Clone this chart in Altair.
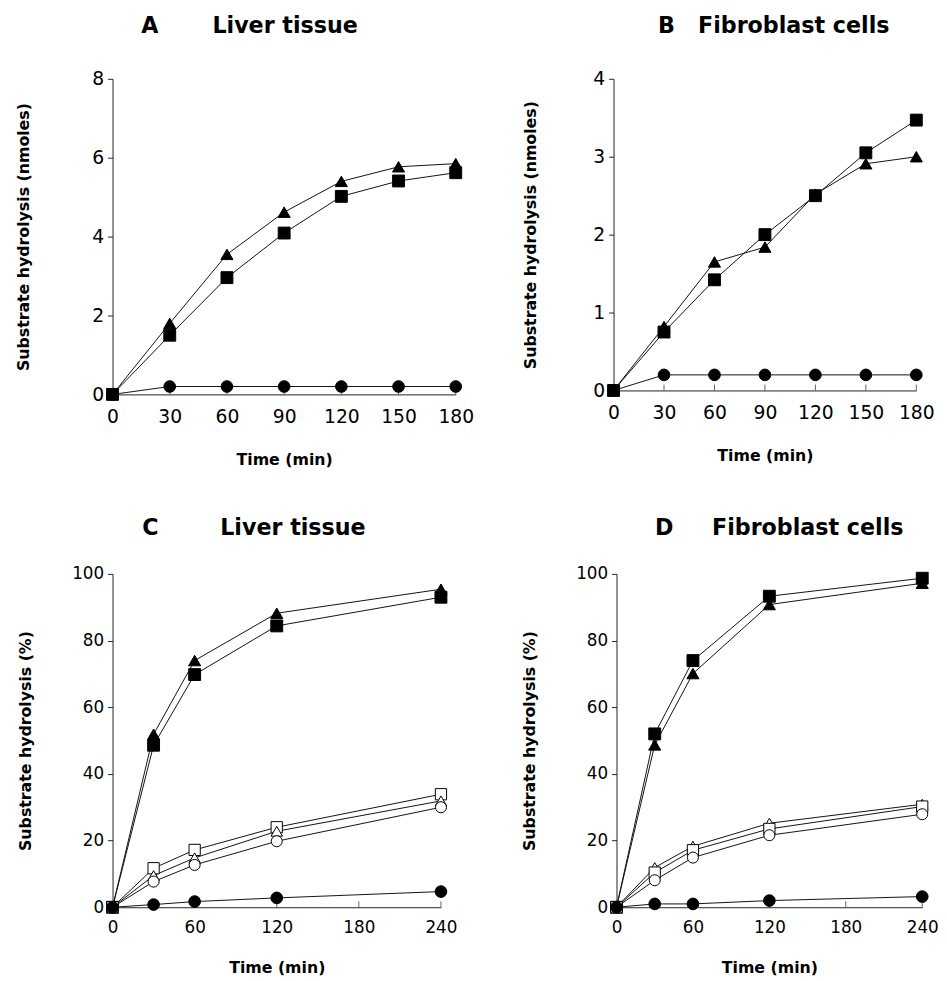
import altair as alt
import pandas as pd

# ---------------- data ----------------
t_ab = [0, 30, 60, 90, 120, 150, 180]
a_tri_f = [0, 1.80, 3.55, 4.62, 5.40, 5.77, 5.85]
a_sq_f = [0, 1.50, 2.96, 4.09, 5.02, 5.41, 5.62]
a_circ_f = [0, 0.20, 0.20, 0.20, 0.20, 0.20, 0.20]

b_sq_f = [0, 0.75, 1.42, 2.00, 2.50, 3.05, 3.47]
b_tri_f = [0, 0.82, 1.65, 1.84, 2.52, 2.91, 3.00]
b_circ_f = [0, 0.20, 0.20, 0.20, 0.20, 0.20, 0.20]

t_cd = [0, 30, 60, 120, 240]
c_tri_f = [0, 51.9, 74.0, 88.2, 95.4]
c_sq_f = [0, 48.6, 69.8, 84.4, 93.0]
c_sq_o = [0, 11.7, 17.2, 24.0, 33.9]
c_tri_o = [0, 9.5, 14.8, 22.8, 31.9]
c_circ_o = [0, 7.7, 12.7, 19.8, 30.0]
c_circ_f = [0, 0.8, 1.7, 2.8, 4.7]

d_sq_f = [0, 52.0, 74.0, 93.3, 98.7]
d_tri_f = [0, 48.7, 70.1, 90.8, 97.2]
d_tri_o = [0, 11.9, 18.3, 25.2, 30.9]
d_sq_o = [0, 10.4, 17.1, 23.5, 30.2]
d_circ_o = [0, 8.1, 14.9, 21.6, 27.9]
d_circ_f = [0, 1.0, 1.0, 2.0, 3.2]

x_ticks_ab = [0, 30, 60, 90, 120, 150, 180]
x_ticks_cd = [0, 60, 120, 180, 240]
y_ticks_a = [0, 2, 4, 6, 8]
y_ticks_b = [0, 1, 2, 3, 4]
y_ticks_cd = [0, 20, 40, 60, 80, 100]

series_names = ["tri_f", "sq_f", "circ_f", "tri_o", "sq_o", "circ_o"]
series_shapes = ["triangle-up", "square", "circle", "triangle-up", "square", "circle"]
series_fills = ["black", "black", "black", "white", "white", "white"]
series_sizes = [150, 125, 115, 150, 125, 115]

FONT = "DejaVu Sans"
NB = "\u00a0"


def panel(series, times, xmax, xticks, ymax, yticks, ytitle, title, dx,
          toffset, w, h, title_x, label_size, title_pad):
    rows = []
    for name, vals in series.items():
        for t, v in zip(times, vals):
            rows.append({"series": name, "time": t, "value": v})
    df = pd.DataFrame(rows)

    xs = alt.Scale(domain=[0, xmax], nice=False, zero=True)
    ys = alt.Scale(domain=[0, ymax], nice=False, zero=True)

    x = alt.X("time:Q", scale=xs,
              axis=alt.Axis(values=xticks, title="Time (min)", ticks=False,
                            grid=False, labelFontSize=label_size,
                            labelFont=FONT, labelPadding=13,
                            titleFont=FONT, titleFontSize=16,
                            titleFontWeight="bold", titlePadding=title_pad,
                            domainColor="#222", labelColor="black",
                            titleColor="black", labelFlush=False))
    y = alt.Y("value:Q", scale=ys,
              axis=alt.Axis(values=yticks, title=ytitle, tickSize=5,
                            grid=False, labelFontSize=label_size,
                            labelFont=FONT, labelPadding=4,
                            titleFont=FONT, titleFontSize=16,
                            titleFontWeight="bold", titleX=title_x,
                            titleY=h / 2, titleBaseline="middle",
                            domainColor="#222", tickColor="#222",
                            labelColor="black", titleColor="black",
                            labelFlush=False))

    base = alt.Chart(df)
    lines = base.mark_line(color="#111", strokeWidth=1).encode(
        x=x, y=y, detail="series:N")
    pts = base.mark_point(stroke="black", strokeWidth=1, opacity=1,
                          fillOpacity=1).encode(
        x=x, y=y,
        shape=alt.Shape("series:N", legend=None,
                        scale=alt.Scale(domain=series_names, range=series_shapes)),
        fill=alt.Fill("series:N", legend=None,
                      scale=alt.Scale(domain=series_names, range=series_fills)),
        size=alt.Size("series:N", legend=None,
                      scale=alt.Scale(domain=series_names, range=series_sizes)),
    )
    tdf = pd.DataFrame({"time": xticks, "value": [0] * len(xticks)})
    ticks = alt.Chart(tdf).mark_tick(orient="vertical", size=6, thickness=1,
                                     color="#222", yOffset=-3).encode(x=x, y=y)

    return alt.layer(lines, ticks, pts).properties(
        width=w, height=h,
        title=alt.TitleParams(text=title, anchor="start", frame="group",
                              dx=dx, offset=toffset,
                              font=FONT, fontSize=22.5, fontWeight="bold",
                              baseline="alphabetic", color="black"))


pA = panel({"tri_f": a_tri_f, "sq_f": a_sq_f, "circ_f": a_circ_f}, t_ab,
           180, x_ticks_ab, 8, y_ticks_a, "Substrate hydrolysis (nmoles)",
           "A" + NB * 7 + "Liver tissue", 29, 15, 348, 320, -90, 19, 26)
pB = panel({"tri_f": b_tri_f, "sq_f": b_sq_f, "circ_f": b_circ_f}, t_ab,
           180, x_ticks_ab, 4, y_ticks_b, "Substrate hydrolysis (nmoles)",
           "B" + NB * 3 + "Fibroblast cells", 45, 15, 307, 316, -84, 19, 26)
pC = panel({"tri_f": c_tri_f, "sq_f": c_sq_f, "sq_o": c_sq_o, "tri_o": c_tri_o,
            "circ_o": c_circ_o, "circ_f": c_circ_f}, t_cd,
           240, x_ticks_cd, 100, y_ticks_cd, "Substrate hydrolysis (%)",
           "C" + NB * 8 + "Liver tissue", 30, 8, 333, 338, -88, 17, 24)
pD = panel({"sq_f": d_sq_f, "tri_f": d_tri_f, "tri_o": d_tri_o, "sq_o": d_sq_o,
            "circ_o": d_circ_o, "circ_f": d_circ_f}, t_cd,
           240, x_ticks_cd, 100, y_ticks_cd, "Substrate hydrolysis (%)",
           "D" + NB * 5 + "Fibroblast cells", 39, 8, 310, 338, -88, 17, 24)

row1 = alt.concat(pA, pB, columns=2, align="none", spacing=49)
row2 = alt.concat(pC, pD, columns=2, align="none", spacing=65)

chart = alt.vconcat(row1, row2, spacing=50).properties(
    padding={"left": 8, "top": 0, "right": 0, "bottom": 0},
    background="white",
).configure_view(stroke=None)

chart.save("out.html", embed_options={"renderer": "svg", "actions": False})
